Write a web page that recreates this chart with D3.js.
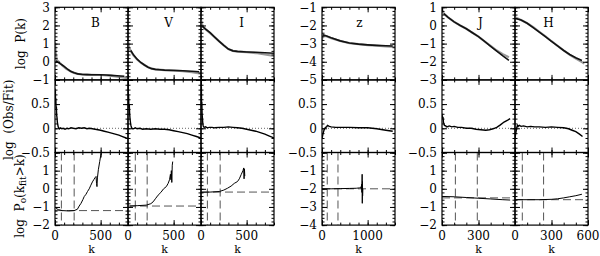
<!DOCTYPE html>
<meta charset="utf-8">
<style>
    body { margin: 0; background: #fff; }
    text { font-family: "DejaVu Serif", "Liberation Serif", serif; fill: #000; }
</style>
<body>
<div class="container"></div>
<script src="https://cdn.jsdelivr.net/npm/d3@7"></script>
<script>

// ---- data: [k, value] ----
// row 1: log P(k), gray = fit, black = observed
const bFit = [[0,1.05],[5,0.7],[10,0.4],[20,0.1],[40,0.0],[80,-0.2],[120,-0.38],[160,-0.5],[200,-0.6],[250,-0.67],[300,-0.7],[400,-0.72],[500,-0.73],[600,-0.76],[700,-0.83],[800,-0.9]];
const bObs = [[10,0.05],[30,-0.02],[60,-0.12],[90,-0.22],[130,-0.38],[170,-0.52],[210,-0.61],[250,-0.67],[300,-0.7],[350,-0.71],[400,-0.72],[450,-0.72],[500,-0.72],[560,-0.73],[620,-0.75],[680,-0.77],[760,-0.8]];
const vFit = [[0,1.2],[5,0.95],[15,0.75],[30,0.6],[60,0.35],[100,0.12],[140,-0.05],[180,-0.18],[220,-0.3],[260,-0.38],[300,-0.42],[400,-0.46],[500,-0.48],[600,-0.52],[700,-0.58],[800,-0.65]];
const vObs = [[30,0.62],[60,0.38],[100,0.14],[140,-0.04],[180,-0.18],[220,-0.3],[260,-0.38],[300,-0.42],[350,-0.44],[400,-0.46],[500,-0.48],[600,-0.5],[700,-0.52],[780,-0.55]];
const iFit = [[0,2.3],[10,2.1],[20,1.95],[50,1.8],[100,1.58],[150,1.35],[200,1.12],[250,0.9],[300,0.7],[350,0.6],[400,0.56],[500,0.53],[600,0.48],[700,0.4],[800,0.32]];
const iObs = [[15,1.95],[50,1.8],[100,1.6],[150,1.36],[200,1.12],[250,0.9],[300,0.7],[350,0.6],[400,0.57],[500,0.54],[600,0.52],[700,0.5],[800,0.47]];
const zFit = [[0,-2.8],[10,-2.62],[20,-2.55],[100,-2.6],[200,-2.7],[400,-2.86],[600,-2.97],[800,-3.03],[1000,-3.08],[1200,-3.12],[1400,-3.15],[1600,-3.18]];
const zObs = [[20,-2.52],[100,-2.58],[200,-2.68],[400,-2.85],[600,-2.97],[800,-3.03],[1000,-3.07],[1200,-3.1],[1400,-3.12],[1550,-3.13]];
const jFit = [[0,0.95],[5,0.8],[15,0.65],[50,0.45],[100,0.2],[150,0.0],[200,-0.18],[250,-0.4],[300,-0.62],[350,-0.88],[400,-1.12],[450,-1.38],[500,-1.58],[550,-1.75]];
const jObs = [[15,0.65],[50,0.45],[100,0.2],[150,0.0],[200,-0.18],[250,-0.4],[300,-0.62],[350,-0.88],[400,-1.15],[450,-1.42],[500,-1.68],[550,-1.92]];
const hFit = [[0,0.45],[50,0.3],[100,0.12],[150,-0.1],[200,-0.35],[250,-0.6],[300,-0.87],[350,-1.12],[400,-1.37],[450,-1.62],[500,-1.83],[550,-2.02],[570,-2.1]];
const hObs = [[5,0.38],[50,0.3],[100,0.12],[150,-0.12],[200,-0.37],[250,-0.62],[300,-0.88],[350,-1.13],[400,-1.38],[450,-1.6],[500,-1.78],[550,-1.93]];

// row 2: log (Obs/Fit)
const bRatio = [[0,0.82],[2,0.55],[4,0.78],[6,0.5],[9,0.62],[12,0.4],[15,0.45],[18,0.28],[22,0.22],[26,0.12],[30,0.08],[35,0.03],[40,0.01],[50,-0.01],[60,0.01],[75,-0.01],[90,0.0],[110,-0.02],[130,0.0],[150,-0.01],[175,0.01],[200,0.0],[230,-0.01],[260,0.01],[290,0.0],[320,0.01],[350,-0.01],[380,0.0],[410,-0.01],[440,-0.02],[470,-0.03],[500,-0.04],[540,-0.06],[580,-0.08],[620,-0.1],[660,-0.12],[700,-0.14],[740,-0.17],[780,-0.2],[800,-0.21]];
const vRatio = [[0,0.9],[3,0.5],[6,0.7],[10,0.42],[14,0.5],[18,0.3],[22,0.2],[27,0.12],[32,0.06],[38,0.02],[45,0.0],[60,-0.01],[80,0.01],[100,-0.01],[130,0.0],[160,-0.02],[200,-0.01],[250,-0.02],[300,-0.01],[350,-0.02],[400,-0.02],[450,-0.03],[500,-0.05],[550,-0.07],[600,-0.09],[650,-0.11],[700,-0.14],[750,-0.17],[800,-0.2]];
const iRatio = [[0,0.95],[2,0.6],[4,0.85],[6,0.45],[9,0.55],[12,0.3],[15,0.22],[19,0.12],[23,0.06],[28,0.03],[35,0.02],[50,0.03],[70,0.01],[90,0.02],[120,0.02],[150,0.01],[200,0.02],[250,0.02],[300,0.03],[350,0.02],[400,0.01],[450,0.0],[500,-0.02],[550,-0.04],[600,-0.06],[650,-0.09],[700,-0.12],[750,-0.16],[800,-0.2]];
const zRatio = [[0,-0.22],[20,-0.12],[40,-0.05],[60,0.0],[80,0.02],[100,0.03],[120,0.06],[140,0.05],[160,0.04],[200,0.03],[300,0.02],[400,0.02],[600,0.02],[800,0.01],[1000,0.01],[1200,-0.01],[1400,-0.04],[1550,-0.06]];
const jRatio = [[0,0.3],[4,0.2],[8,0.24],[12,0.12],[16,0.1],[20,0.06],[30,0.05],[40,0.03],[60,0.05],[80,0.03],[100,0.04],[130,0.02],[160,0.02],[200,0.0],[240,0.0],[280,-0.02],[320,-0.03],[360,-0.04],[390,-0.03],[420,-0.01],[450,0.02],[480,0.07],[510,0.13],[540,0.17],[560,0.2]];
const hRatio = [[0,-0.2],[5,-0.12],[10,-0.05],[15,0.02],[20,0.06],[25,0.04],[35,0.06],[50,0.04],[70,0.05],[100,0.03],[130,0.04],[160,0.03],[200,0.03],[250,0.02],[300,0.03],[350,0.02],[400,0.01],[440,-0.01],[470,-0.04],[500,-0.07],[530,-0.12],[555,-0.17]];

// row 3: log Po(kfit>k)
const bPo = [[10,-1.08],[40,-1.15],[80,-1.2],[150,-1.22],[210,-1.2],[245,-1.13],[265,-0.95],[285,-0.8],[305,-0.6],[320,-0.43],[340,-0.3],[356,-0.15],[375,0.0],[393,0.2],[410,0.38],[425,0.5],[440,0.62],[450,0.68],[455,0.3],[460,0.12],[465,0.6],[475,1.05],[490,1.5],[505,1.95]];
const vPo = [[20,-0.95],[100,-0.93],[200,-0.9],[250,-0.82],[275,-0.72],[300,-0.55],[330,-0.35],[360,-0.2],[390,0.0],[420,0.12],[440,0.3],[455,0.5],[465,0.8],[470,0.5],[475,1.0],[480,0.35],[485,1.3],[490,1.5]];
const iPo = [[0,-0.19],[100,-0.18],[200,-0.15],[250,-0.07],[290,0.03],[330,0.15],[365,0.3],[400,0.4],[420,0.55],[440,0.78],[460,1.0],[468,1.15],[472,0.55],[476,1.1],[480,0.7]];
const zPo = [[0,-2.0],[200,-2.0],[400,-1.99],[600,-1.98],[750,-1.97],[820,-1.95],[850,-1.9],[860,-2.0],[870,-1.75],[875,-2.2],[880,-1.2],[883,-2.8],[887,-1.6],[890,-2.4],[895,-2.0]];
const jPo = [[0,-0.42],[100,-0.44],[200,-0.48],[300,-0.52],[400,-0.56],[500,-0.6],[560,-0.62]];
const hPo = [[0,-0.6],[100,-0.6],[200,-0.6],[300,-0.58],[350,-0.55],[400,-0.5],[450,-0.44],[500,-0.38],[550,-0.3]];

// dashed markers in row 3: two k cuts and one level
const bCuts = [70, 210], bLevel = -1.2;
const vCuts = [80, 210], vLevel = -0.95;
const iCuts = [70, 210], iLevel = -0.18;
const zCuts = [115, 350], zLevel = -2;
const jCuts = [110, 290], jLevel = -0.5;
const hCuts = [60, 235], hLevel = -0.6;

// tick labels
const bviYLabels = [[3, 2, 1, 0, -1], [0.5, 0, -0.5], [1, 0, -1, -2]];
const zYLabels = [[-1, -2, -3, -4, -5], [0.5, 0, -0.5], [-1, -2, -3, -4]];
const jhYLabels = [[1, 0, -1, -2, -3], [0.5, 0, -0.5], [1, 0, -1, -2]];
const bviXLabels = [0, 500];
const zXLabels = [0, 1000];
const jXLabels = [0, 300];
const hXLabels = [0, 300, 600];

const rowTitles = ['log  P(k)', 'log  (Obs/Fit)', null];

// ---- layout ----
const width = 600;
const height = 256;
const panelW = 73;
const marginTop = 7.3;
const rowH = 72.6;

const groups = [
    { x0: 55, kDomain: [0, 800], kMinor: 100, kMajor: 500,
      yDomains: [[-1, 3], [-0.5, 1], [-2, 2]], yLabels: bviYLabels },
    { x0: 322, kDomain: [0, 1600], kMinor: 200, kMajor: 1000,
      yDomains: [[-5, -1], [-0.5, 1], [-4, 0]], yLabels: zYLabels },
    { x0: 442, kDomain: [0, 600], kMinor: 100, kMajor: 300,
      yDomains: [[-3, 1], [-0.5, 1], [-2, 2]], yLabels: jhYLabels }
];
const yMinor = [0.2, 0.1, 0.2];
const yMajor = [1, 0.5, 1];

const panels = [
    { band: 'B', group: 0, col: 0, fit: bFit, obs: bObs, ratio: bRatio, po: bPo, cuts: bCuts, level: bLevel, xLabels: bviXLabels, dx: 4 },
    { band: 'V', group: 0, col: 1, fit: vFit, obs: vObs, ratio: vRatio, po: vPo, cuts: vCuts, level: vLevel, xLabels: bviXLabels, dx: 4 },
    { band: 'I', group: 0, col: 2, fit: iFit, obs: iObs, ratio: iRatio, po: iPo, cuts: iCuts, level: iLevel, xLabels: bviXLabels, dx: 4 },
    { band: 'z', group: 1, col: 0, fit: zFit, obs: zObs, ratio: zRatio, po: zPo, cuts: zCuts, level: zLevel, xLabels: zXLabels, dx: 1 },
    { band: 'J', group: 2, col: 0, fit: jFit, obs: jObs, ratio: jRatio, po: jPo, cuts: jCuts, level: jLevel, xLabels: jXLabels, dx: 2 },
    { band: 'H', group: 2, col: 1, fit: hFit, obs: hObs, ratio: hRatio, po: hPo, cuts: hCuts, level: hLevel, xLabels: hXLabels, dx: -3 }
];

const fmt = d => d < 0 ? '\u2212' + Math.abs(d) : String(d);
const steps = (dom, step) => d3.range(Math.ceil(dom[0] / step - 1e-9) * step, dom[1] + step * 1e-6, step)
                                .map(v => +v.toFixed(6));

const svg = d3.select('.container')
                .append('svg')
                .attr('width', width)
                .attr('height', height)
                .attr('viewBox', `0 0 ${width} ${height}`);

const defs = svg.append('defs');

// inward ticks on all four sides of a cell
const addTicks = (g, x, y, xv, yv, len) => {
    const [x1, x2] = x.range();
    const [y2, y1] = y.range();
    const sides = [
        [d3.axisBottom(x), xv, `translate(0,${y2})`],
        [d3.axisTop(x), xv, `translate(0,${y1})`],
        [d3.axisLeft(y), yv, `translate(${x1},0)`],
        [d3.axisRight(y), yv, `translate(${x2},0)`]
    ];
    sides.forEach(([axis, vals, tr]) => {
        g.append('g')
            .attr('transform', tr)
            .call(axis.tickValues(vals).tickSize(-len).tickFormat(''))
            .call(s => s.select('.domain').remove())
            .call(s => s.selectAll('line').attr('stroke', '#000').attr('stroke-width', 1));
    });
};

panels.forEach((p, pi) => {
    const grp = groups[p.group];
    const x0 = grp.x0 + p.col * panelW;
    const x = d3.scaleLinear().domain(grp.kDomain).range([x0, x0 + panelW]);
    const first = p.col === 0;

    [0, 1, 2].forEach(r => {
        const yTop = marginTop + r * rowH;
        const y = d3.scaleLinear().domain(grp.yDomains[r]).range([yTop + rowH, yTop]);
        const cell = svg.append('g');

        const clipId = `clip-${pi}-${r}`;
        defs.append('clipPath').attr('id', clipId)
            .append('rect')
            .attr('x', x0).attr('y', yTop)
            .attr('width', panelW).attr('height', rowH);

        const plot = cell.append('g').attr('clip-path', `url(#${clipId})`);
        const line = d3.line().x(d => x(d[0])).y(d => y(d[1]));

        if (r === 0) {
            plot.append('path').datum(p.fit)
                .attr('d', line).attr('fill', 'none')
                .attr('stroke', '#999').attr('stroke-width', 2.2);
            plot.append('path').datum(p.obs)
                .attr('d', line).attr('fill', 'none')
                .attr('stroke', '#111').attr('stroke-width', 1.6);
            cell.append('text')
                .attr('x', x0 + panelW / 2 + p.dx)
                .attr('y', 26.5)
                .attr('text-anchor', 'middle')
                .style('font-size', '12px')
                .text(p.band);
        } else if (r === 1) {
            plot.append('line')
                .attr('x1', x0).attr('x2', x0 + panelW)
                .attr('y1', y(0)).attr('y2', y(0))
                .attr('stroke', '#666').attr('stroke-dasharray', '1,2');
            plot.append('path').datum(p.ratio)
                .attr('d', line).attr('fill', 'none')
                .attr('stroke', '#000').attr('stroke-width', 1.4);
        } else {
            plot.selectAll('line.cut').data(p.cuts).enter()
                .append('line').attr('class', 'cut')
                .attr('x1', d => x(d)).attr('x2', d => x(d))
                .attr('y1', yTop).attr('y2', yTop + rowH)
                .attr('stroke', '#555').attr('stroke-dasharray', '8,4');
            plot.append('line')
                .attr('x1', x0).attr('x2', x0 + panelW)
                .attr('y1', y(p.level)).attr('y2', y(p.level))
                .attr('stroke', '#555').attr('stroke-dasharray', '8,4');
            plot.append('path').datum(p.po)
                .attr('d', line).attr('fill', 'none')
                .attr('stroke', '#000').attr('stroke-width', 1);

            cell.selectAll('text.xl').data(p.xLabels).enter()
                .append('text').attr('class', 'xl')
                .attr('x', d => x(d)).attr('y', 240)
                .attr('text-anchor', 'middle')
                .style('font-size', '12px')
                .text(fmt);
            cell.append('text')
                .attr('x', x0 + panelW / 2).attr('y', 253.2)
                .attr('text-anchor', 'middle')
                .style('font-size', '11px')
                .text('k');
        }

        // ticks: minor then major
        const yd = grp.yDomains[r];
        addTicks(cell, x, y, steps(grp.kDomain, grp.kMinor), steps(yd, yMinor[r]), 2.5);
        addTicks(cell, x, y, steps(grp.kDomain, grp.kMajor), steps(yd, yMajor[r]), 5);

        cell.append('rect')
            .attr('x', x0).attr('y', yTop)
            .attr('width', panelW).attr('height', rowH)
            .attr('fill', 'none').attr('stroke', '#000').attr('stroke-width', 1.2);

        if (first) {
            cell.selectAll('text.yl').data(grp.yLabels[r]).enter()
                .append('text').attr('class', 'yl')
                .attr('x', x0 - 5).attr('y', d => y(d))
                .attr('dy', '0.36em')
                .attr('text-anchor', 'end')
                .style('font-size', '12px')
                .text(fmt);
        }
    });
});

// axis titles on the far left
const title = (cx, cy) => svg.append('text')
    .attr('transform', `translate(${cx},${cy}) rotate(-90)`)
    .attr('text-anchor', 'middle')
    .attr('dominant-baseline', 'central')
    .style('font-size', '12px')
    .style('white-space', 'pre');

title(21, marginTop + rowH * 0.5).text(rowTitles[0]);
title(9, marginTop + rowH * 1.55).text(rowTitles[1]);

const t3 = title(20, marginTop + rowH * 2.6);
t3.append('tspan').text('log  P');
t3.append('tspan').attr('dy', 3).style('font-size', '9px').text('o');
t3.append('tspan').attr('dy', -3).text('(k');
t3.append('tspan').attr('dy', 3).style('font-size', '9px').text('fit');
t3.append('tspan').attr('dy', -3).text('>k)');

</script>
</body>
